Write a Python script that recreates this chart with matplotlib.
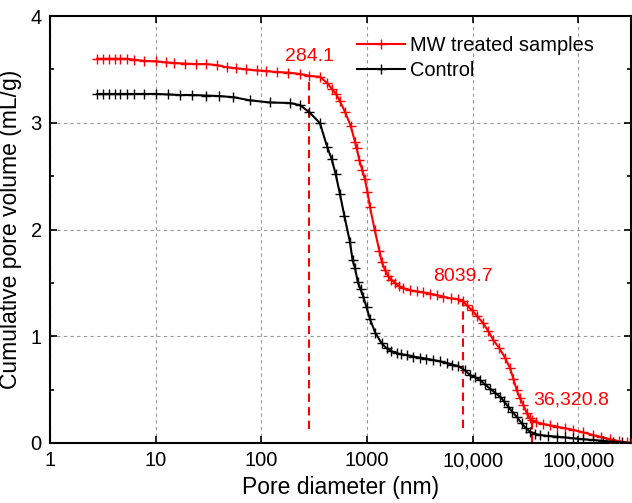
import matplotlib
matplotlib.use('Agg')
import matplotlib.pyplot as plt
from matplotlib.ticker import FixedLocator, NullLocator, MultipleLocator

plt.rcParams['font.family'] = ['Liberation Sans', 'DejaVu Sans']

# MW treated samples (pore diameter nm, cumulative volume mL/g)
mw_x = [2.8, 3.2, 3.6, 4.1, 4.6, 5.3, 6.3, 7.8, 10, 12.5, 15, 19, 24, 30, 38, 47,
        58, 72, 90, 110, 140, 180, 232, 284.1, 359, 421, 463, 510, 555, 620, 701,
        770, 798, 846, 900, 956, 1010, 1067, 1180, 1309, 1377, 1480, 1592, 1700,
        1841, 2000, 2207, 2550, 2950, 3400, 3946, 4600, 5275, 6200, 7310, 8039.7,
        8800, 9780, 11000, 12600, 14000, 15670, 17800, 20240, 22560, 24300, 26100,
        28000, 30150, 32500, 34860, 36320.8, 40000, 46600, 54000, 62400, 75000,
        89600, 110000, 138000, 165000, 199000, 240000, 287000, 315000]
mw_y = [3.60, 3.60, 3.60, 3.60, 3.60, 3.60, 3.59, 3.58, 3.575, 3.565, 3.56, 3.555,
        3.55, 3.55, 3.54, 3.52, 3.51, 3.50, 3.49, 3.485, 3.475, 3.47, 3.457, 3.44,
        3.43, 3.37, 3.32, 3.27, 3.20, 3.10, 2.97, 2.82, 2.76, 2.65, 2.56, 2.47, 2.35,
        2.21, 2.00, 1.80, 1.70, 1.62, 1.56, 1.53, 1.50, 1.47, 1.45, 1.43, 1.42, 1.41,
        1.40, 1.385, 1.37, 1.355, 1.346, 1.333, 1.29, 1.246, 1.19, 1.12, 1.05, 0.965,
        0.89, 0.80, 0.70, 0.60, 0.496, 0.42, 0.356, 0.28, 0.23, 0.215, 0.195, 0.178,
        0.165, 0.153, 0.138, 0.122, 0.10, 0.075, 0.055, 0.035, 0.018, 0.005, 0.0]

# Control
ct_x = [2.8, 3.2, 3.6, 4.1, 4.6, 5.3, 6.3, 7.8, 10, 13, 17, 22, 30, 40, 54, 78,
        120, 187, 232, 284.1, 359, 421, 463, 505, 555, 610, 690, 731, 770, 817,
        870, 923, 990, 1067, 1200, 1377, 1535, 1700, 1906, 2120, 2375, 2750, 3170,
        3650, 4240, 4900, 5680, 6400, 7310, 8460, 9440, 10500, 11740, 13000, 14590,
        16300, 18150, 19800, 21740, 23800, 26100, 29100, 31800, 34860, 39000, 43400,
        52000, 62400, 75000, 89600, 110000, 138000, 170000, 214000, 260000, 309000]
ct_y = [3.27, 3.27, 3.27, 3.27, 3.27, 3.27, 3.27, 3.27, 3.27, 3.265, 3.26, 3.26,
        3.255, 3.25, 3.24, 3.21, 3.19, 3.185, 3.165, 3.10, 2.995, 2.77, 2.66, 2.52,
        2.33, 2.13, 1.88, 1.71, 1.64, 1.51, 1.44, 1.37, 1.27, 1.16, 1.03, 0.934, 0.887,
        0.86, 0.84, 0.83, 0.824, 0.81, 0.80, 0.79, 0.777, 0.765, 0.75, 0.735, 0.72,
        0.68, 0.637, 0.615, 0.59, 0.55, 0.51, 0.47, 0.434, 0.39, 0.34, 0.29, 0.246,
        0.184, 0.14, 0.106, 0.085, 0.075, 0.066, 0.06, 0.052, 0.044, 0.036, 0.028,
        0.02, 0.012, 0.006, 0.0]

# marked pore diameters: (x, line bottom, line top, label)
marks_x = [284.1, 8039.7, 36320.8]
marks_bottom = [0.13, 0.14, 0.0]
marks_top = [3.44, 1.333, 0.215]
marks_label = ['284.1', '8039.7', '36,320.8']

xticks = [1, 10, 100, 1000, 10000, 100000]
xtick_labels = ['1', '10', '100', '1000', '10,000', '100,000']
yticks = [0, 1, 2, 3, 4]

fig = plt.figure(figsize=(6.32, 5.03), dpi=100)
ax = fig.add_axes([50 / 632, 60 / 503, 581 / 632, 427 / 503])

ax.plot(mw_x, mw_y, color='red', lw=1.5, marker='+', ms=7, mew=1,
        label='MW treated samples', zorder=3)
ax.plot(ct_x, ct_y, color='black', lw=1.5, marker='+', ms=7, mew=1,
        label='Control', zorder=3)

for x, b, t in zip(marks_x, marks_bottom, marks_top):
    ax.plot([x, x], [b, t], color='red', lw=1.5, linestyle=(0, (4, 2.5)), zorder=2)

ax.text(marks_x[0], 3.62, marks_label[0], color='red', fontsize=14, ha='center', va='center')
ax.text(marks_x[1], 1.56, marks_label[1], color='red', fontsize=14, ha='center', va='center')
ax.text(marks_x[2] * 1.02, 0.40, marks_label[2], color='red', fontsize=14, ha='left', va='center')

ax.set_xscale('log')
ax.set_xlim(1, 3.15e5)
ax.set_ylim(0, 4)
ax.xaxis.set_major_locator(FixedLocator(xticks))
ax.set_xticklabels(xtick_labels)
ax.xaxis.set_minor_locator(NullLocator())
ax.yaxis.set_major_locator(FixedLocator(yticks))
ax.yaxis.set_minor_locator(MultipleLocator(0.5))

ax.tick_params(which='both', direction='in', top=True, right=True, labelsize=14.5, width=1.2)
ax.tick_params(which='major', length=5, pad=6)
ax.tick_params(which='minor', length=3)
for s in ax.spines.values():
    s.set_linewidth(1.5)

ax.grid(True, which='major', color='#999999', lw=0.8, linestyle=(0, (3, 3)))

ax.set_xlabel('Pore diameter (nm)', fontsize=16.5, labelpad=4)
ax.set_ylabel('Cumulative pore volume (mL/g)', fontsize=16.5, labelpad=6)

ax.legend(loc='upper left', bbox_to_anchor=(0.528, 0.952), frameon=False, fontsize=14.4,
          handlelength=2.4, handletextpad=0.25, labelspacing=0.3, borderpad=0,
          borderaxespad=0, numpoints=1)

plt.savefig('out.png', dpi=100)
plt.close()
